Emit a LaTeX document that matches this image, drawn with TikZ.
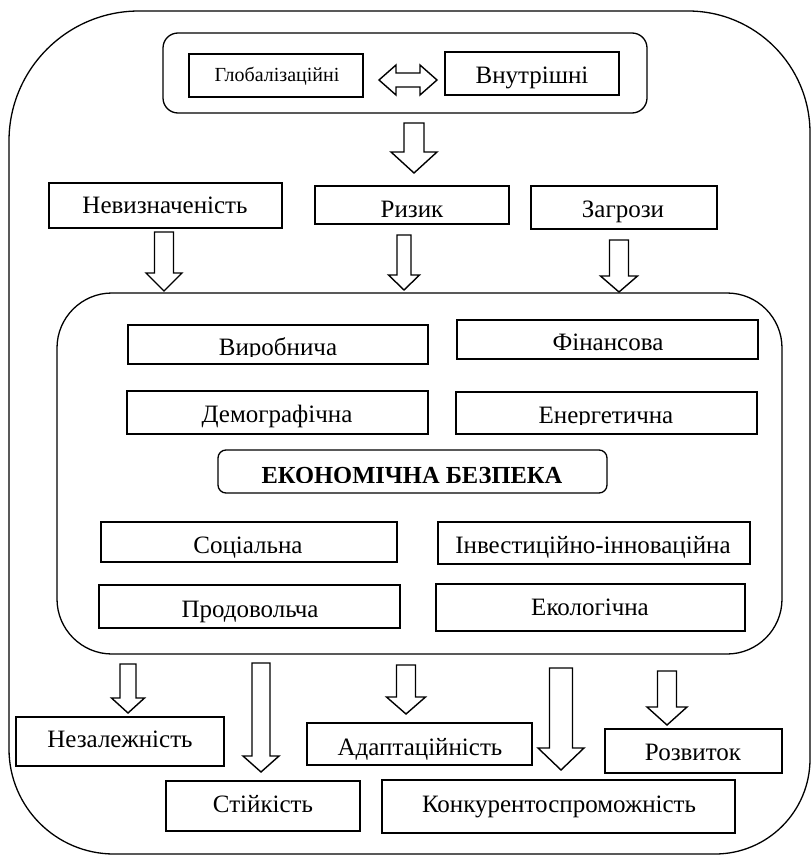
\documentclass[tikz,border=0pt]{standalone}
\usepackage{fontspec}
\setmainfont{Liberation Serif}
\usetikzlibrary{calc}
\tikzset{
  box/.style={draw, line width=1.4pt, rectangle, inner sep=0pt, fill=none},
  rbox/.style={draw, line width=1.3pt, rectangle, rounded corners=#1, inner sep=0pt},
  lbl/.style={inner sep=0pt, anchor=base, font=\fontsize{25}{25}\selectfont},
  smalllbl/.style={inner sep=0pt, anchor=base, font=\fontsize{20}{20}\selectfont},
  boldlbl/.style={inner sep=0pt, anchor=base, font=\fontsize{24.5}{24.5}\selectfont\bfseries},
  arrowline/.style={draw, line width=1.4pt, line join=miter},
  frame/.style={draw, line width=1.3pt}
}
% box node from corners (pixel coordinates, y downwards)
\newcommand\boxnode[6][box]{%
  \node[#1, minimum width={(#5-#3)*1pt}, minimum height={(#6-#4)*1pt}] (#2) at ({(#3+#5)/2},{(#4+#6)/2}) {};}
% block arrow pointing down: #1 start coord, #2 tip coord, #3 half shaft, #4 half head, #5 head length
\newcommand\blockarrow[5]{%
  \draw[arrowline] let \p1=(#1), \p2=(#2) in
    (\x1-#3pt,\y1) -- (\x1+#3pt,\y1) -- (\x1+#3pt,\y2+#5pt) -- (\x1+#4pt,\y2+#5pt)
    -- (\x1,\y2) -- (\x1-#4pt,\y2+#5pt) -- (\x1-#3pt,\y2+#5pt) -- cycle;}
\begin{document}
\begin{tikzpicture}[x=1pt,y=-1pt]
\useasboundingbox (0,0) rectangle (811,856);
% outer frame
\draw[frame] (9,141) .. controls (9,69.2) and (67.2,11) .. (139,11)
  -- (688,11) .. controls (755.4,11) and (810,65.6) .. (810,133)
  -- (810,759) .. controls (810,811.5) and (767.5,854) .. (715,854)
  -- (114,854) .. controls (56,854) and (9,807) .. (9,749) -- cycle;

% top group
\boxnode[rbox=15pt]{topgrp}{163}{33}{647}{113}
\boxnode{glob}{189}{54}{363}{97}
\node[smalllbl] (glob-t) at (277,82) {Глобалізаційні};
\boxnode{vnut}{445}{52}{619}{95}
\node[lbl] (vnut-t) at (532,84) {Внутрішні};
\coordinate (dl) at (379,80);
\coordinate (dr) at (437,80);
\draw[arrowline] let \p1=(dl), \p2=(dr) in
  (\x1,\y1) -- (\x1+17pt,\y1+15pt) -- (\x1+17pt,\y1+7pt) -- (\x2-17pt,\y1+7pt)
  -- (\x2-17pt,\y1+15pt) -- (\x2,\y1) -- (\x2-17pt,\y1-15pt) -- (\x2-17pt,\y1-7pt)
  -- (\x1+17pt,\y1-7pt) -- (\x1+17pt,\y1-15pt) -- cycle;
\coordinate (t0s) at (414,123);
\coordinate (t0e) at (414,173);
\blockarrow{t0s}{t0e}{10}{23}{21}

% row 2
\boxnode{nev}{49}{183}{282}{228}
\node[lbl] (nev-t) at (165,213) {Невизначеність};
\boxnode{ryz}{315}{186}{509}{224}
\node[lbl] (ryz-t) at (412,217) {Ризик};
\boxnode{zag}{531}{186}{717}{229}
\node[lbl] (zag-t) at (623,217) {Загрози};

\coordinate (a1s) at (164,232); \coordinate (a1e) at (164,291);
\blockarrow{a1s}{a1e}{9.5}{18}{18}
\coordinate (a2s) at (404,235); \coordinate (a2e) at (404,290);
\blockarrow{a2s}{a2e}{7}{15.5}{15}
\coordinate (a3s) at (619,240); \coordinate (a3e) at (619,292);
\blockarrow{a3s}{a3e}{9.5}{18.5}{16}

% inner container
\boxnode[rbox=55pt]{inner}{57}{293}{782}{654}

\boxnode{vyr}{128}{325}{428}{364}
\begin{scope}
  \clip (128,325) rectangle (428,356);
  \node[lbl] (vyr-t) at (278,355) {Виробнича};
\end{scope}
\boxnode{fin}{457}{320}{758}{359}
\node[lbl] (fin-t) at (608,350) {Фінансова};
\boxnode{dem}{127}{391}{428}{434}
\node[lbl] (dem-t) at (277,422) {Демографічна};
\boxnode{ener}{456}{392}{757}{434}
\begin{scope}
  \clip (456,392) rectangle (757,424);
  \node[lbl] (ener-t) at (606,423) {Енергетична};
\end{scope}
\boxnode[rbox=8pt]{ekb}{218}{450}{607}{493}
\begin{scope}
  \clip (218,450) rectangle (607,482.5);
  \node[boldlbl] (ekb-t) at (412,483) {ЕКОНОМІЧНА БЕЗПЕКА};
\end{scope}
\boxnode{soc}{101}{522}{397}{562}
\node[lbl] (soc-t) at (248,553) {Соціальна};
\boxnode{inv}{438}{522}{750}{564}
\node[lbl] (inv-t) at (593,553) {Інвестиційно-інноваційна};
\boxnode{prod}{99}{585}{400}{628}
\node[lbl] (prod-t) at (250,617) {Продовольча};
\boxnode{eko}{436}{584}{745}{631}
\node[lbl] (eko-t) at (590,615) {Екологічна};

% bottom arrows
\coordinate (b1s) at (128,664); \coordinate (b1e) at (128,713);
\blockarrow{b1s}{b1e}{8}{16.5}{15}
\coordinate (b2s) at (261,663); \coordinate (b2e) at (261,772);
\blockarrow{b2s}{b2e}{9}{18}{16}
\coordinate (b3s) at (406,665); \coordinate (b3e) at (406,714);
\blockarrow{b3s}{b3e}{9.5}{19.5}{17}
\coordinate (b4s) at (561,668); \coordinate (b4e) at (561,770);
\blockarrow{b4s}{b4e}{11.5}{23}{22}
\coordinate (b5s) at (667,671); \coordinate (b5e) at (667,725);
\blockarrow{b5s}{b5e}{9.5}{20}{18}

% bottom boxes
\boxnode{nez}{16}{717}{224}{766}
\node[lbl] (nez-t) at (120,747) {Незалежність};
\boxnode{sti}{166}{781}{360}{831}
\node[lbl] (sti-t) at (263,812) {Стійкість};
\boxnode{ada}{307}{723}{532}{765}
\node[lbl] (ada-t) at (420,755) {Адаптаційність};
\boxnode{kon}{382}{780}{735}{833}
\node[lbl] (kon-t) at (559,812) {Конкурентоспроможність};
\boxnode{roz}{605}{729}{782}{773}
\node[lbl] (roz-t) at (693,760) {Розвиток};
\end{tikzpicture}
\end{document}
